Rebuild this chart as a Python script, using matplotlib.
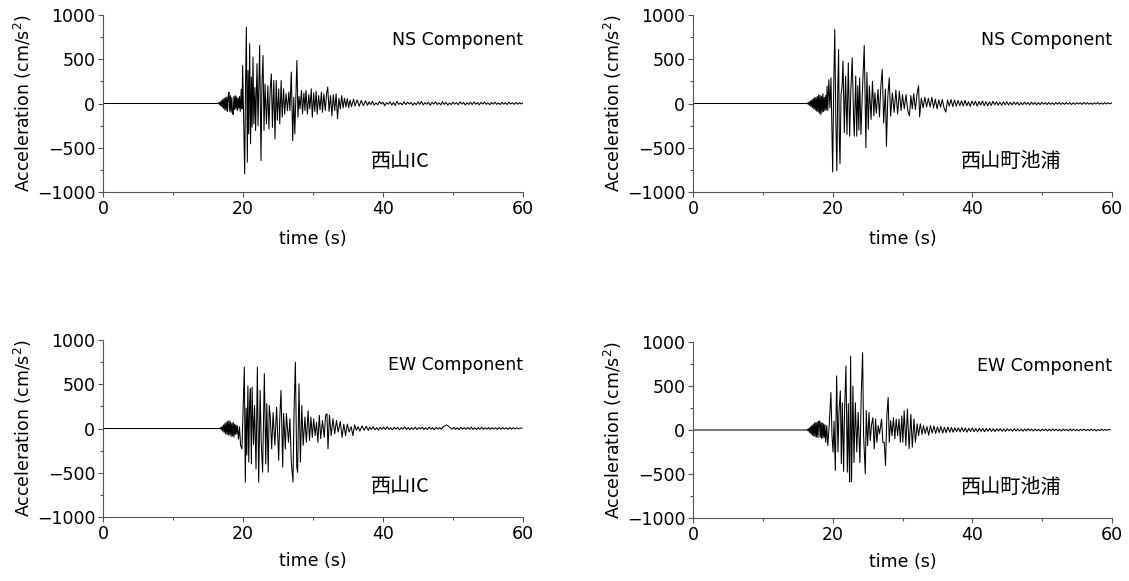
import numpy as np
import matplotlib.pyplot as plt
from matplotlib.ticker import MultipleLocator

# (time s, acceleration cm/s2), peak by peak
ns_ic = [(0, 0), (16.4, 0), (16.5, 8), (16.6, -12), (16.7, 18), (16.8, -25), (16.9, 30), (17.0, -38), (17.1, 45),
         (17.2, -55), (17.3, 60), (17.4, -70), (17.5, 65), (17.6, -80), (17.7, 75), (17.8, -90), (17.9, 95),
         (18.0, 125), (18.1, -85), (18.2, 90), (18.3, -100), (18.4, 70), (18.5, -95), (18.6, -125), (18.7, 80),
         (18.8, -70), (18.9, 90), (19.0, -60), (19.1, 75), (19.2, -80), (19.3, 60), (19.4, -55), (19.5, 80),
         (19.6, -90), (19.75, 160), (19.85, -60), (19.95, 430), (20.1, -190), (20.24, -795), (20.36, 200),
         (20.48, 863), (20.62, -663), (20.72, 373), (20.82, -343), (20.95, 675), (21.08, -456), (21.2, 298),
         (21.3, -268), (21.43, 524), (21.55, -230), (21.7, 180), (21.8, -305), (22.0, 450), (22.15, -250),
         (22.38, 656), (22.57, -645), (22.7, 200), (22.86, 543), (23.0, -305), (23.15, 220), (23.35, -230),
         (23.55, 200), (23.7, -286), (23.88, 150), (24.05, 335), (24.2, -270), (24.4, 260), (24.57, -400),
         (24.75, 260), (24.9, -190), (25.1, 165), (25.25, -230), (25.45, 260), (25.6, -155), (25.8, 165),
         (25.95, -120), (26.15, 110), (26.35, -80), (26.55, 130), (26.7, -80), (26.9, 355), (27.1, -420),
         (27.25, 70), (27.4, -343), (27.55, 70), (27.7, 486), (27.85, -155), (28.0, 80), (28.15, -60),
         (28.35, 147), (28.5, -117), (28.7, 120), (28.85, -80), (29.0, 150), (29.2, -120), (29.4, 100),
         (29.55, -60), (29.75, 166), (29.9, -155), (30.1, 120), (30.25, -90), (30.45, 140), (30.6, -120),
         (30.8, 90), (31.0, -70), (31.2, 130), (31.35, -100), (31.55, 110), (31.75, -80), (31.95, 120),
         (32.1, 185), (32.3, -90), (32.5, 90), (32.7, -140), (32.9, 100), (33.1, -80), (33.3, 110), (33.5, -173),
         (33.7, 60), (33.9, -60), (34.1, 90), (34.3, -50), (34.5, 60), (34.7, -40), (34.9, 55), (35.1, -45),
         (35.3, 40), (35.5, -35), (35.8, 50), (36.0, -30), (36.3, 40), (36.6, -30), (36.9, 35), (37.2, -25),
         (37.5, 30), (37.8, -20)]

ns_ik = [(0, 0), (16.3, 0), (16.4, 6), (16.5, -10), (16.6, 15), (16.7, -22), (16.8, 28), (16.9, -35), (17.0, 40),
         (17.1, -48), (17.2, 55), (17.3, -60), (17.4, 65), (17.5, -75), (17.6, 70), (17.7, -85), (17.8, 80),
         (17.9, -95), (18.0, 100), (18.1, -110), (18.2, 90), (18.3, -125), (18.4, 85), (18.5, -100), (18.6, 110),
         (18.7, -90), (18.8, 70), (18.9, -80), (19.0, 90), (19.1, -70), (19.2, 196), (19.3, -80), (19.45, 270),
         (19.6, -50), (19.76, 290), (20.0, -773), (20.15, 196), (20.3, 837), (20.45, -180), (20.6, -760),
         (20.72, 120), (20.85, 610), (20.95, -370), (21.05, -680), (21.2, 100), (21.35, 200), (21.48, 480),
         (21.67, -330), (21.85, 310), (22.05, -350), (22.24, 460), (22.43, -370), (22.6, 150), (22.8, 517),
         (23.0, -180), (23.1, -370), (23.3, 310), (23.45, -370), (23.6, 200), (23.75, -300), (23.86, 290),
         (24.05, -350), (24.25, 120), (24.52, 656), (24.76, -500), (24.9, 350), (25.1, -290), (25.25, 200),
         (25.5, -180), (25.7, 250), (25.9, -140), (26.05, 120), (26.25, -110), (26.5, 160), (26.7, -150),
         (26.9, 200), (27.1, 385), (27.3, -220), (27.55, 160), (27.7, -485), (27.9, 80), (28.1, 290),
         (28.3, -143), (28.55, 120), (28.8, -100), (29.05, 150), (29.3, -120), (29.55, 140), (29.8, -80),
         (30.0, 100), (30.25, -60), (30.5, 100), (30.75, -80), (31.0, -140), (31.2, 90), (31.4, -60),
         (31.6, 110), (31.85, -70), (32.1, 120), (32.3, 200), (32.45, -150), (32.7, 60), (32.95, -50),
         (33.2, 70), (33.45, -40), (33.7, 60), (33.95, -40), (34.2, 70), (34.45, -50), (34.7, 50), (34.95, -60),
         (35.2, 40), (35.45, -40), (35.7, 45), (35.95, -50), (36.2, -97), (36.45, 40), (36.7, -30), (36.95, 45),
         (37.2, -35), (37.45, 40), (37.7, -30), (37.95, 35), (38.2, -25)]

ew_ic = [(0, 0), (16.7, 0), (16.8, 10), (16.9, -15), (17.0, 20), (17.1, -30), (17.2, 40), (17.3, -45), (17.4, 55),
         (17.5, -60), (17.6, 70), (17.7, -65), (17.8, 80), (17.9, -75), (18.0, 90), (18.1, -70), (18.2, 75),
         (18.3, -90), (18.4, 60), (18.5, -85), (18.6, 70), (18.7, -98), (18.8, 50), (18.9, -70), (19.0, 40),
         (19.1, -60), (19.2, 30), (19.35, -120), (19.5, 20), (19.65, -190), (19.85, -230), (20.19, 694),
         (20.33, -607), (20.45, 230), (20.55, -300), (20.7, 480), (20.82, -380), (20.95, 300), (21.05, 450),
         (21.2, -400), (21.3, 467), (21.5, -180), (21.65, 260), (21.86, -456), (22.05, 694), (22.24, -607),
         (22.45, 430), (22.6, -150), (22.8, -494), (23.05, 620), (23.25, -400), (23.4, 280), (23.6, -494),
         (23.75, 260), (23.9, 130), (24.1, -230), (24.3, 180), (24.55, -190), (24.8, 240), (25.1, -360),
         (25.25, 110), (25.43, 430), (25.67, -437), (25.8, 170), (26.05, -230), (26.2, 170), (26.5, -155),
         (26.7, 110), (26.9, -380), (27.14, -607), (27.28, 150), (27.48, 750), (27.68, -437), (27.8, -494),
         (28.0, 505), (28.2, -380), (28.4, 260), (28.6, -190), (28.85, 130), (29.05, -155), (29.3, 200),
         (29.5, -135), (29.7, 130), (29.9, -100), (30.1, 110), (30.3, -80), (30.5, 70), (30.7, -155),
         (30.9, 150), (31.1, -115), (31.35, 90), (31.6, -100), (31.8, 150), (32.0, 166), (32.14, -230),
         (32.35, 150), (32.6, -80), (32.85, 110), (33.1, -60), (33.35, 90), (33.6, -40), (33.9, 80),
         (34.15, -100), (34.4, 50), (34.65, -80), (34.9, 50), (35.15, -40), (35.45, 20), (35.7, -80),
         (35.95, 40), (36.2, -20), (36.45, 20), (36.7, -30), (37.0, 30), (37.3, -20), (37.6, 25), (37.9, -20)]

ew_ik = [(0, 0), (16.3, 0), (16.4, 8), (16.5, -12), (16.6, 20), (16.7, -28), (16.8, 35), (16.9, -45), (17.0, 50),
         (17.1, -60), (17.2, 65), (17.3, -70), (17.4, 80), (17.5, -75), (17.6, 85), (17.7, -80), (17.8, 90),
         (17.9, -85), (18.0, 95), (18.1, 105), (18.2, -83), (18.3, 90), (18.4, -95), (18.5, 80), (18.6, -90),
         (18.7, 70), (18.8, -85), (18.9, 60), (19.0, -140), (19.15, 50), (19.3, -177), (19.5, 50), (19.75, 426),
         (19.9, -60), (20.05, -250), (20.2, 100), (20.38, -460), (20.57, 615), (20.76, -250), (20.9, 200),
         (21.1, 445), (21.24, -384), (21.38, 310), (21.57, -470), (21.7, 200), (21.9, 728), (22.1, -480),
         (22.24, 300), (22.33, -250), (22.43, -590), (22.57, 840), (22.7, -590), (22.9, 500), (23.05, -370),
         (23.25, 310), (23.45, -250), (23.65, 200), (23.9, -370), (24.1, 425), (24.29, 880), (24.43, -65),
         (24.67, -500), (24.81, 220), (25.0, -180), (25.2, 200), (25.38, -120), (25.57, 65), (25.76, 140),
         (25.95, -215), (26.14, 125), (26.33, -140), (26.52, 50), (26.71, -45), (27.0, 125), (27.19, -140),
         (27.38, -140), (27.57, -403), (27.76, 165), (27.95, 370), (28.1, -140), (28.3, 105), (28.5, -65),
         (28.7, 140), (28.9, -100), (29.1, 125), (29.3, -65), (29.5, 125), (29.7, -140), (29.9, 160),
         (30.05, -140), (30.24, 218), (30.48, -177), (30.7, 237), (30.95, -215), (31.2, 180), (31.4, -196),
         (31.65, 125), (31.85, -140), (32.1, 70), (32.3, -65), (32.55, 70), (32.8, -50), (33.0, 50),
         (33.25, -40), (33.5, 40), (33.75, -60), (34.0, 50), (34.25, -35), (34.5, 45), (34.75, -40), (35.0, 35),
         (35.25, -30), (35.5, 40), (35.75, -35), (36.0, 30), (36.25, -30), (36.5, 35), (36.75, -25), (37.0, 30),
         (37.25, -25), (37.5, 25), (37.75, -20)]

# coda, one reading every 0.25 s from the given start time
tail_ns_ic = [18, -12, 25, -20, 8, -15, 22, -5, 14, -25, 10, -8, 20, -18, 12, -22, 26, -10, 6, -16,
              20, -12, 15, -6, 12, -20, 8, -14, 18, -10, 22, -16, 10, -8, 15, -20, 12, -6, 18, -12,
              8, -15, 20, -10, 14, -18, 6, -12, 16, -8, 10, -14, 20, -6, 12, -16, 8, -10, 14, -12,
              18, -8, 10, -15, 12, -6, 16, -10, 8, -14, 12, -8, 15, -10, 6, -12, 14, -8, 10, -12,
              16, -6, 8, -10, 12, -8, 10, -6, 8, 4]
tail_ns_ik = [30, -28, 35, -25, 20, -32, 28, -20, 25, -30, 22, -18, 28, -24, 20, -26, 18, -22, 25, -15,
              20, -20, 15, -22, 18, -15, 20, -18, 14, -16, 18, -12, 15, -18, 12, -14, 16, -10, 12, -15,
              14, -10, 12, -14, 10, -12, 14, -8, 10, -12, 12, -10, 8, -12, 10, -8, 12, -10, 8, -10,
              12, -8, 10, -12, 8, -10, 10, -6, 8, -10, 12, -8, 10, -8, 6, -10, 8, -6, 10, -8,
              6, -8, 10, -6, 8, -4, 6, 4]
tail_ew_ic = [15, -10, 20, -15, 10, -18, 12, -8, 16, -12, 20, -10, 8, -15, 14, -6, 12, -16, 10, -8,
              18, -12, 10, -14, 8, -10, 15, -12, 10, -6, 14, -10, 8, -12, 16, -8, 10, -14, 12, -6,
              10, -8, 20, 30, 40, 25, 10, -8, 12, -10, 8, -12, 14, -6, 10, -10, 12, -8, 16, -10,
              8, -12, 10, -6, 14, -10, 8, -8, 12, -10, 10, -6, 8, -10, 12, -8, 10, -6, 8, -10,
              12, -8, 10, -6, 8, -4, 6, 2]
tail_ew_ik = [25, -22, 28, -20, 22, -25, 20, -18, 24, -20, 18, -22, 20, -15, 18, -20, 16, -14, 18, -16,
              14, -18, 15, -12, 16, -14, 12, -15, 14, -10, 12, -14, 15, -10, 12, -12, 10, -14, 12, -10,
              14, -8, 10, -12, 12, -10, 8, -12, 10, -8, 12, -10, 8, -10, 12, -8, 10, -10, 8, -12,
              10, -6, 8, -10, 12, -8, 10, -8, 6, -10, 8, -6, 10, -8, 6, -8, 10, -6, 8, -10,
              6, -8, 10, -6, 8, -4, 6, 2]
tail_start = [38.0, 38.45, 38.1, 38.0]

components = ['NS Component', 'NS Component', 'EW Component', 'EW Component']
stations = ['西山IC', '西山町池浦', '西山IC', '西山町池浦']
records = [ns_ic, ns_ik, ew_ic, ew_ik]
tails = [tail_ns_ic, tail_ns_ik, tail_ew_ic, tail_ew_ik]

W, H = 1129, 581
fig = plt.figure(figsize=(W / 100, H / 100), dpi=100)

# axes boxes in pixels: left, top, right, bottom
boxes = [(103, 15, 523, 192), (693, 15, 1112, 192), (103, 340, 523, 517), (693, 342, 1112, 518)]
label_x = [42.5, 45.6, 42.5, 45.6]
xlab_y = [-0.215, -0.215, -0.2, -0.2]

for i in range(4):
    l, t, r, b = boxes[i]
    ax = fig.add_axes([l / W, 1 - b / H, (r - l) / W, (b - t) / H])
    rec = np.array(records[i], dtype=float)
    tt = tail_start[i] + 0.25 * np.arange(len(tails[i]))
    time = np.concatenate([rec[:, 0], tt])
    acc = np.concatenate([rec[:, 1], tails[i]])
    ax.plot(time, acc, color='black', lw=0.75)

    ax.set_xlim(0, 60)
    ax.set_ylim(-1000, 1000)
    ax.spines['top'].set_visible(False)
    ax.spines['right'].set_visible(False)
    for s in ['left', 'bottom']:
        ax.spines[s].set_color('#555555')
    ax.xaxis.set_major_locator(MultipleLocator(20))
    ax.xaxis.set_minor_locator(MultipleLocator(10))
    ax.yaxis.set_major_locator(MultipleLocator(500))
    ax.yaxis.set_minor_locator(MultipleLocator(250))
    ax.tick_params(which='major', direction='out', length=3.5, width=0.8, color='#555555', labelsize=12.5, pad=2)
    ax.tick_params(which='minor', direction='out', length=2.5, width=0.8, color='#555555')

    ax.set_xlabel('time (s)', fontsize=12.5)
    ax.xaxis.set_label_coords(0.5, xlab_y[i])
    ax.set_ylabel('Acceleration (cm/s$^2$)', fontsize=12.5)
    ax.yaxis.set_label_coords(-0.165, 0.5)

    ax.text(60, 723, components[i], ha='right', va='center', fontsize=12.5)
    ax.text(label_x[i], -650, stations[i], ha='center', va='center', fontsize=14.5,
            family=['Noto Sans CJK JP', 'DejaVu Sans'])

plt.savefig('out.png', dpi=100)
